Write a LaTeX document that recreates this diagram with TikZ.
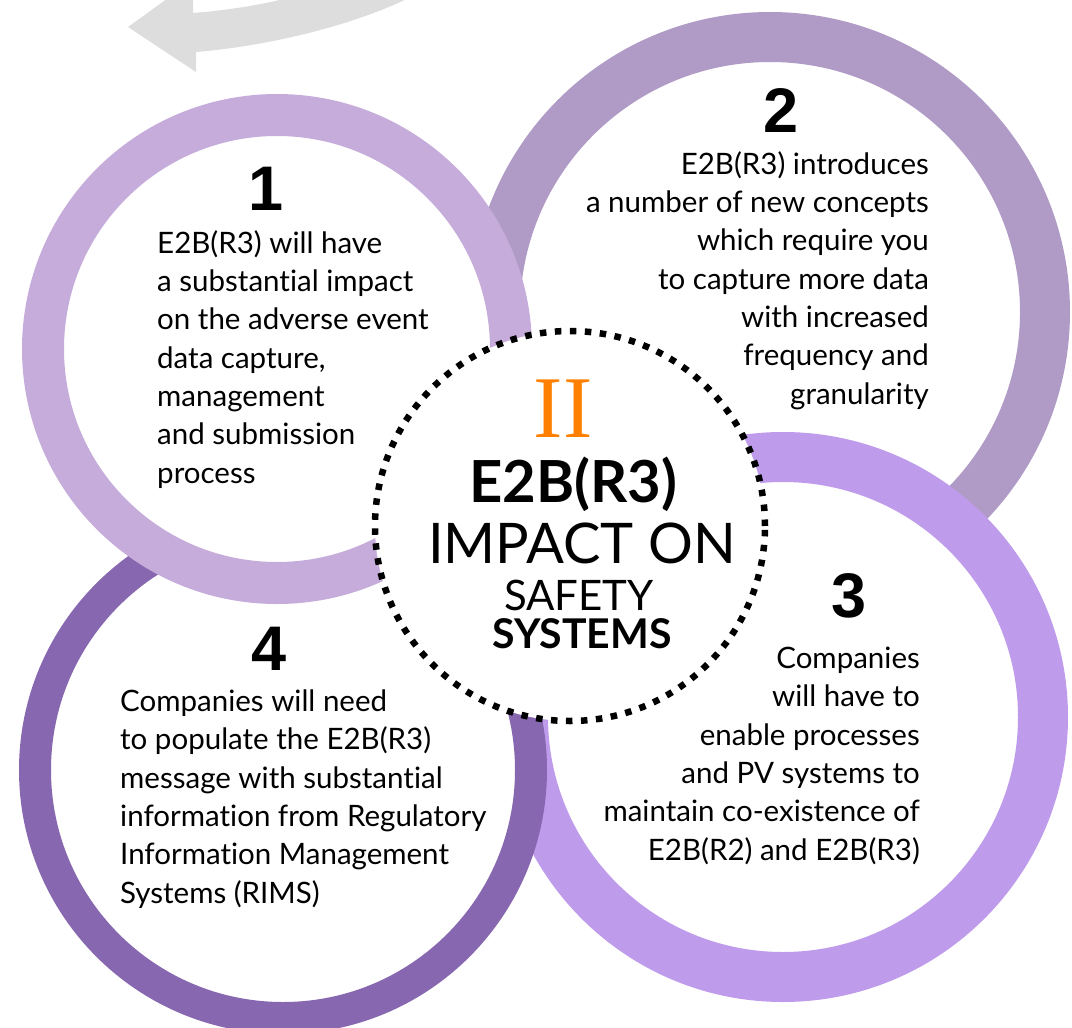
\documentclass[tikz,border=0pt]{standalone}
\usepackage{fontspec}
\setmainfont{Lato}[Ligatures={NoCommon}]
\newfontfamily\numfont{Liberation Sans}
\newfontfamily\romfont{Liberation Serif}
\usetikzlibrary{positioning}
\definecolor{ringone}{HTML}{C6ACDB}
\definecolor{ringtwo}{HTML}{B09AC6}
\definecolor{ringthree}{HTML}{BF9BEC}
\definecolor{ringfour}{HTML}{8767AF}
\definecolor{arrowgray}{HTML}{DDDDDD}
\definecolor{romanorange}{HTML}{FF8000}

\begin{document}
\begin{tikzpicture}[x=1pt,y=-1pt,
      ring/.style={circle,fill=white,inner sep=0pt},
      num/.style={font=\numfont\bfseries\fontsize{63}{63}\selectfont,inner sep=0pt,anchor=base},
      txt/.style={font=\fontsize{29.5}{38.3}\selectfont,inner sep=0pt}]
      \useasboundingbox (0,0) rectangle (1072,1028);
      \clip (0,0) rectangle (1072,1028);
      % grey arrow coming in at the top
      \fill[arrowgray] (128,27) -- (193,-20) -- (193,13) .. controls (230,10) and (270,4) .. (310,-8)
        -- (420,-8) .. controls (370,20) and (280,45) .. (196,52) -- (196,72) -- cycle;
      % the four rings, back to front
      \node[ring, draw=ringtwo, line width=50pt, minimum size=550pt]   (r2) at (770,312) {};
      \node[ring, draw=ringthree, line width=50pt, minimum size=520pt] (r3) at (783,717) {};
      \node[ring, draw=ringfour, line width=32pt, minimum size=496pt]  (r4) at (283,770) {};
      \node[ring, draw=ringone, line width=42pt, minimum size=468pt]   (r1) at (277,349) {};
      \node[circle, fill=white, draw=black, line width=6.5pt, dash pattern=on 6.5pt off 8.5pt,
            minimum size=390pt, inner sep=0pt] (hub) at (570,526) {};
      % centre titles
      \node[font=\romfont\fontsize{88}{88}\selectfont, text=romanorange, anchor=base, inner sep=0pt] (roman) at (563,437) {II};
      \node[font=\bfseries\fontsize{58}{58}\selectfont, anchor=base, inner sep=0pt] (title) at (573,502) {E2B(R3)};
      \node[font=\fontsize{56}{56}\selectfont, anchor=base, inner sep=0pt] (impact) at (582,563) {IMPACT ON};
      \node[font=\fontsize{42}{42}\selectfont, anchor=base, inner sep=0pt] (safety) at (579,610) {SAFETY};
      \node[font=\bfseries\fontsize{41}{41}\selectfont, anchor=base, inner sep=0pt] (systems) at (582,648) {SYSTEMS};
      % numbers
      \node[num] (n1) at (266,210) {1};
      \node[num] (n2) at (781,132) {2};
      \node[num] (n3) at (849,617) {3};
      \node[num] (n4) at (269,670) {4};
      % texts (anchored on the last line)
      \node[txt, align=left, anchor=base west] (t1) at (157,483)
        {E2B(R3) will have\\a substantial impact\\on the adverse event\\data capture,\\management\\and submission\\process};
      \node[txt, align=right, anchor=base east] (t2) at (929,404)
        {E2B(R3) introduces\\a number of new concepts\\which require you\\to capture more data\\with increased\\frequency and\\granularity};
      \node[txt, align=right, anchor=base east] (t3) at (920,860)
        {Companies\\will have to\\enable processes\\and PV systems to\\maintain co-existence of\\E2B(R2) and E2B(R3)};
      \node[txt, align=left, anchor=base west] (t4) at (120,903)
        {Companies will need\\to populate the E2B(R3)\\message with substantial\\information from Regulatory\\Information Management\\Systems (RIMS)};
    \end{tikzpicture}
\end{document}
